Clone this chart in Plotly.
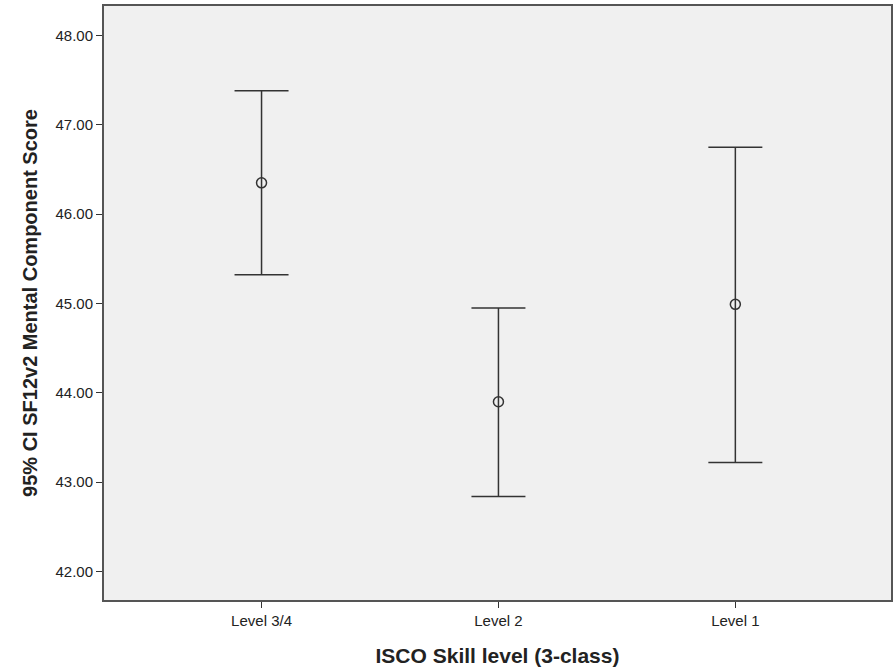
import plotly.graph_objects as go

categories = ["Level 3/4", "Level 2", "Level 1"]
means = [46.35, 43.90, 44.99]
upper = [47.38, 44.95, 46.75]
lower = [45.32, 42.84, 43.22]
y_ticks = [42, 43, 44, 45, 46, 47, 48]

err_plus = [u - m for u, m in zip(upper, means)]
err_minus = [m - l for m, l in zip(means, lower)]

fig = go.Figure(go.Scatter(
    x=list(range(len(categories))), y=means, mode="markers",
    marker=dict(symbol="circle-open", size=10, color="#333333", line=dict(width=1.5)),
    error_y=dict(type="data", symmetric=False, array=err_plus, arrayminus=err_minus,
                 color="#333333", thickness=1.5, width=27),
    showlegend=False,
))

fig.update_layout(
    width=894, height=672,
    margin=dict(l=104, r=1, t=6, b=72),
    paper_bgcolor="white", plot_bgcolor="#f0f0f0",
    font=dict(family="Liberation Sans, Arial, sans-serif", color="#222222", size=15),
    xaxis=dict(
        range=[-0.665, 2.657], tickmode="array",
        tickvals=list(range(len(categories))), ticktext=categories,
        showgrid=False, zeroline=False, showline=True, linecolor="#555555", linewidth=2,
        mirror=True, ticks="outside", ticklen=6, tickcolor="#333333",
        tickfont=dict(size=15),
        title=dict(text="<b>ISCO Skill level (3-class)</b>", font=dict(size=21), standoff=20),
    ),
    yaxis=dict(
        range=[41.68, 48.33], tickmode="array", tickvals=y_ticks,
        ticktext=[f"{v:.2f}" for v in y_ticks],
        showgrid=False, zeroline=False, showline=True, linecolor="#555555", linewidth=2,
        mirror=True, ticks="outside", ticklen=6, tickcolor="#333333",
        tickfont=dict(size=15),
        title=dict(text="<b>95% CI SF12v2 Mental Component Score</b>", font=dict(size=20), standoff=12),
    ),
)

fig.write_html("out.html")
